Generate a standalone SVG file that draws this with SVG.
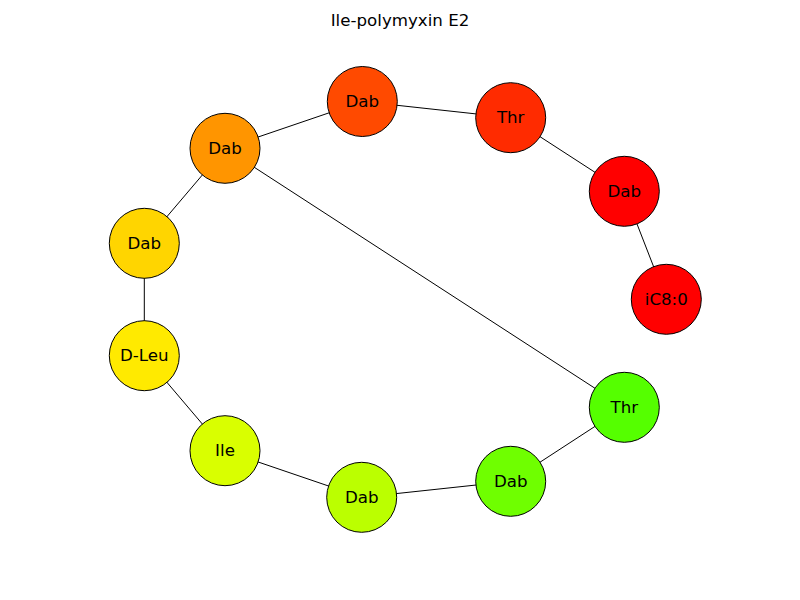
<svg xmlns="http://www.w3.org/2000/svg" width="800" height="600" viewBox="0 0 800 600">
<style>
.n{stroke:#000;stroke-width:1}
.t{font-family:"DejaVu Sans",sans-serif;font-size:16.67px;text-anchor:middle;dominant-baseline:central;fill:#000}
.ti{font-family:"DejaVu Sans",sans-serif;font-size:16.67px;text-anchor:middle;fill:#000}
.e line{stroke:#000;stroke-width:1}
</style>
<rect width="800" height="600" fill="#fff"/>
<text x="400" y="26" class="ti">Ile-polymyxin E2</text>
<g class="e" id="edges">
<line x1="225" y1="148.3" x2="362.3" y2="101.5"/>
<line x1="362.3" y1="101.5" x2="510.7" y2="117.7"/>
<line x1="510.7" y1="117.7" x2="624.3" y2="191.3"/>
<line x1="624.3" y1="191.3" x2="666.3" y2="299.3"/>
<line x1="225" y1="148.3" x2="144.3" y2="243.3"/>
<line x1="144.3" y1="243.3" x2="144.3" y2="355.7"/>
<line x1="144.3" y1="355.7" x2="225" y2="450.7"/>
<line x1="225" y1="450.7" x2="361.7" y2="497.3"/>
<line x1="361.7" y1="497.3" x2="510.7" y2="481.3"/>
<line x1="510.7" y1="481.3" x2="624.3" y2="407.3"/>
<line x1="624.3" y1="407.3" x2="225" y2="148.3"/>
</g>
<g id="n1"><circle class="n" cx="225" cy="148.3" r="35" fill="#ff9500"/><text class="t" x="225" y="148.3">Dab</text></g>
<g id="n2"><circle class="n" cx="362.3" cy="101.5" r="35" fill="#ff4a00"/><text class="t" x="362.3" y="101.5">Dab</text></g>
<g id="n3"><circle class="n" cx="510.7" cy="117.7" r="35" fill="#ff2b00"/><text class="t" x="510.7" y="117.7">Thr</text></g>
<g id="n4"><circle class="n" cx="624.3" cy="191.3" r="35" fill="#ff0000"/><text class="t" x="624.3" y="191.3">Dab</text></g>
<g id="n5"><circle class="n" cx="666.3" cy="299.3" r="35" fill="#ff0000"/><text class="t" x="666.3" y="299.3">iC8:0</text></g>
<g id="n6"><circle class="n" cx="624.3" cy="407.3" r="35" fill="#55ff00"/><text class="t" x="624.3" y="407.3">Thr</text></g>
<g id="n7"><circle class="n" cx="510.7" cy="481.3" r="35" fill="#6fff00"/><text class="t" x="510.7" y="481.3">Dab</text></g>
<g id="n8"><circle class="n" cx="361.7" cy="497.3" r="35" fill="#bbff00"/><text class="t" x="361.7" y="497.3">Dab</text></g>
<g id="n9"><circle class="n" cx="225" cy="450.7" r="35" fill="#d9ff00"/><text class="t" x="225" y="450.7">Ile</text></g>
<g id="n10"><circle class="n" cx="144.3" cy="355.7" r="35" fill="#ffea00"/><text class="t" x="144.3" y="355.7">D-Leu</text></g>
<g id="n11"><circle class="n" cx="144.3" cy="243.3" r="35" fill="#ffd500"/><text class="t" x="144.3" y="243.3">Dab</text></g>
</svg>
